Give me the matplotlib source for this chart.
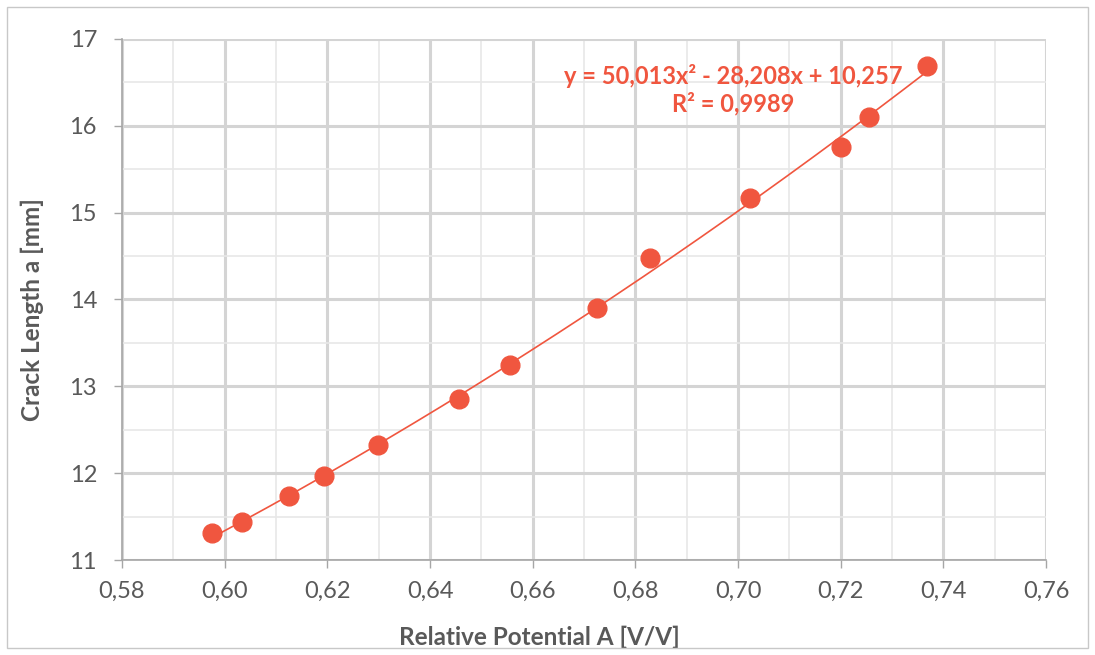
import numpy as np
import matplotlib
matplotlib.use("Agg")
import matplotlib.pyplot as plt
from matplotlib.ticker import MultipleLocator, FuncFormatter
from matplotlib.patches import Rectangle

# data
potential = [0.5976, 0.6034, 0.6126, 0.6194, 0.6299, 0.6456, 0.6556,
             0.6726, 0.6829, 0.7024, 0.7200, 0.7255, 0.7368]
crack_len = [11.31, 11.44, 11.74, 11.97, 12.33, 12.855, 13.24,
             13.90, 14.48, 15.17, 15.76, 16.10, 16.69]
# trendline coefficients as printed on the chart
coef = [50.013, -28.208, 10.257]
eq_text = "y = 50,013x² - 28,208x + 10,257\nR² = 0,9989"

red = "#F0563F"
txt = "#595959"
plt.rcParams['font.family'] = ['Lato', 'DejaVu Sans']

fig = plt.figure(figsize=(10.95, 6.55), dpi=100)
ax = fig.add_axes([0.1114, 0.145, 0.8439, 0.7955])

# chart border like excel
fig.patches.append(Rectangle((7/1095, 7/655), 1081/1095, 641/655, transform=fig.transFigure,
                             fill=False, edgecolor="#C8C8C8", linewidth=1.0))

xs = np.linspace(min(potential), max(potential), 200)
ax.plot(xs, np.polyval(coef, xs), color=red, linewidth=1.2, zorder=3)
ax.plot(potential, crack_len, 'o', color=red, markersize=13.5, zorder=4)

ax.set_xlim(0.58, 0.76)
ax.set_ylim(11, 17)
ax.xaxis.set_major_locator(MultipleLocator(0.02))
ax.xaxis.set_minor_locator(MultipleLocator(0.01))
ax.yaxis.set_major_locator(MultipleLocator(1))
ax.yaxis.set_minor_locator(MultipleLocator(0.5))
ax.xaxis.set_major_formatter(FuncFormatter(lambda v, p: f"{v:.2f}".replace(".", ",")))
ax.yaxis.set_major_formatter(FuncFormatter(lambda v, p: f"{v:.0f}"))

ax.grid(which='major', color="#D4D4D4", linewidth=2.2, zorder=0)
ax.grid(which='minor', color="#E8E8E8", linewidth=1.2, zorder=0)
ax.set_axisbelow(True)
for s in ['top', 'right']:
    ax.spines[s].set_visible(False)
for s in ['left', 'bottom']:
    ax.spines[s].set_color("#A6A6A6")
    ax.spines[s].set_linewidth(1.2)
ax.tick_params(which='major', direction='out', length=6, width=1, color="#A6A6A6",
               labelsize=17, labelcolor=txt)
ax.tick_params(axis='x', pad=9)
ax.tick_params(axis='y', pad=12)
ax.tick_params(which='minor', length=0)

ax.set_xlabel("Relative Potential A [V/V]", fontsize=17.5, fontweight='bold', color=txt, labelpad=17)
ax.set_ylabel("Crack Length a [mm]", fontsize=17.5, fontweight='bold', color=txt, labelpad=18)
ax.xaxis.label.set_x(0.452)
ax.yaxis.label.set_y(0.48)

ax.text(0.699, 16.42, eq_text, color=red, fontsize=17, fontweight='bold',
        ha='center', va='center', linespacing=1.2)

fig.savefig("out.png", dpi=100)
